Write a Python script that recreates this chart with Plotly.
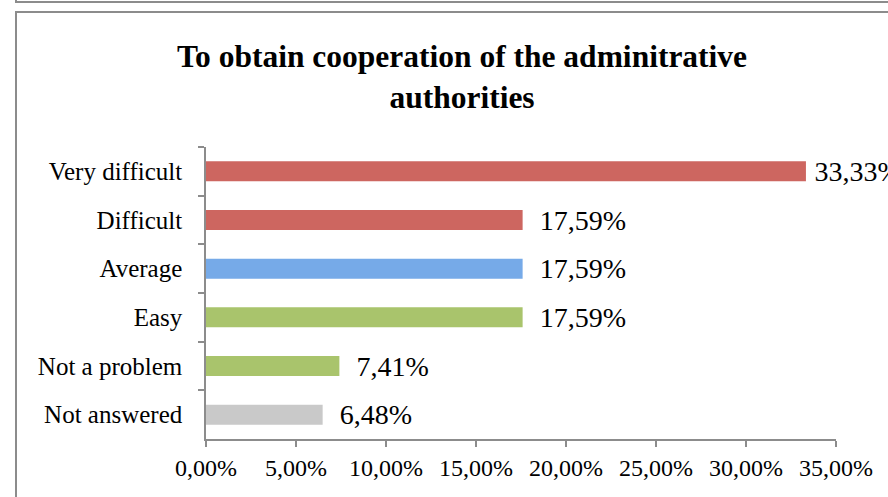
import plotly.graph_objects as go

categories = ["Very difficult", "Difficult", "Average", "Easy", "Not a problem", "Not answered"]
values = [33.33, 17.59, 17.59, 17.59, 7.41, 6.48]
colors = ["#CD6660", "#CD6660", "#76AAE8", "#A9C46C", "#A9C46C", "#C9C9C9"]
tick_vals = [0, 5, 10, 15, 20, 25, 30, 35]
tick_text = ["0,00%", "5,00%", "10,00%", "15,00%", "20,00%", "25,00%", "30,00%", "35,00%"]
labels = [("\u2009" if v == max(values) else "\u2002") + f"{v:.2f}%".replace(".", ",") for v in values]

FONT = "Liberation Serif"

fig = go.Figure()
fig.add_trace(go.Bar(
    y=categories, x=values, orientation="h",
    marker=dict(color=colors, line=dict(width=0)),
    text=labels, textposition="outside", cliponaxis=False,
    constraintext="none",
    textfont=dict(family=FONT, size=28, color="#000000"),
    hoverinfo="skip",
))

W, H = 888, 497
L, R, T, B = 206, 52, 147, 58
pw, ph = W - L - R, H - T - B

def px(x):
    return (x - L) / pw

def py(y):
    return 1 - (y - T) / ph

fig.update_layout(
    width=W, height=H,
    margin=dict(l=L, r=R, t=T, b=B),
    paper_bgcolor="white", plot_bgcolor="white",
    showlegend=False,
    bargap=0.59,
    title=dict(
        text="To obtain cooperation of the adminitrative<br>authorities",
        x=(462) / W, xanchor="center", y=1 - 67 / H, yanchor="middle",
        font=dict(family=FONT, size=31.5, color="#000000", weight="bold"),
    ),
    xaxis=dict(
        range=[0, 35], tickvals=tick_vals, ticktext=tick_text,
        showgrid=False, zeroline=False,
        showline=True, linecolor="#8C8C8C", linewidth=1.5,
        ticks="outside", ticklen=6, tickcolor="#8C8C8C", tickwidth=1.5,
        tickfont=dict(family=FONT, size=24, color="#000000"),
        fixedrange=True,
    ),
    yaxis=dict(
        autorange="reversed", type="category",
        showgrid=False, zeroline=False,
        showline=True, linecolor="#8C8C8C", linewidth=1.5,
        ticks="outside", ticklen=6, tickcolor="#8C8C8C", tickwidth=1.5,
        tickson="boundaries", ticklabelstandoff=17,
        tickfont=dict(family=FONT, size=25, color="#000000"),
        fixedrange=True,
    ),
    shapes=[
        dict(type="rect", xref="paper", yref="paper",
             x0=px(16), x1=px(W + 20), y0=py(H + 20), y1=py(12),
             line=dict(color="#8C8C8C", width=2), fillcolor="rgba(0,0,0,0)"),
        dict(type="rect", xref="paper", yref="paper",
             x0=px(16), x1=px(W + 20), y0=py(2), y1=py(-30),
             line=dict(color="#8C8C8C", width=2), fillcolor="rgba(0,0,0,0)"),
    ],
)

fig.write_html("out.html", config={"displayModeBar": False},
               post_script="document.body.style.margin='0';document.body.style.overflow='hidden';")
